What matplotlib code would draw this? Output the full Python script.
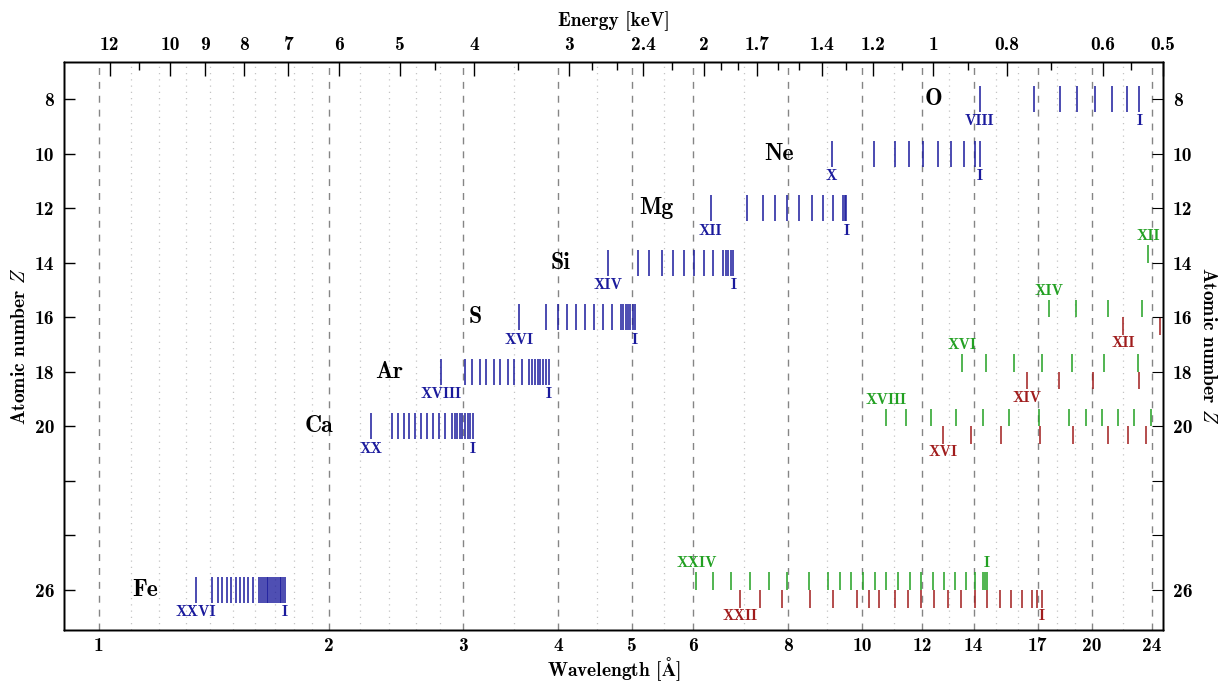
import matplotlib
matplotlib.use('Agg')
import matplotlib.pyplot as plt
from matplotlib.ticker import FixedLocator, FixedFormatter, NullFormatter

plt.rcParams['mathtext.fontset'] = 'cm'
plt.rcParams['font.family'] = ['cmb10', 'DejaVu Serif']
plt.rcParams['axes.linewidth'] = 1.0

HC = 12.398  # keV * Angstrom

# ---------------- data: K-shell edges (blue), wavelength in Angstrom, highest ion -> neutral
Z_K = [8, 10, 12, 14, 16, 18, 20, 26]
names_K = ['O', 'Ne', 'Mg', 'Si', 'S', 'Ar', 'Ca', 'Fe']
first_K = ['VIII', 'X', 'XII', 'XIV', 'XVI', 'XVIII', 'XX', 'XXVI']
last_K = ['I'] * 8

edges_O = [14.256, 16.804, 18.173, 19.113, 20.200, 21.245, 22.229, 23.090]
edges_Ne = [9.126, 10.378, 11.047, 11.524, 12.030, 12.565, 13.080, 13.603, 14.063, 14.276]
edges_Mg = [6.334, 7.061, 7.411, 7.691, 7.982, 8.276, 8.591, 8.898, 9.170, 9.443, 9.491, 9.537]
edges_Si = [4.650, 5.091, 5.258, 5.463, 5.658, 5.844, 6.028, 6.213, 6.384, 6.580, 6.630, 6.680,
            6.731, 6.781]
edges_S = [3.554, 3.853, 3.996, 4.109, 4.219, 4.335, 4.457, 4.581, 4.698, 4.832, 4.866, 4.901,
           4.935, 4.970, 5.006, 5.041]
edges_Ar = [2.807, 3.018, 3.087, 3.153, 3.220, 3.289, 3.359, 3.431, 3.504, 3.579, 3.661, 3.694,
            3.728, 3.756, 3.790, 3.819, 3.853, 3.888]
edges_Ca = [2.270, 2.419, 2.462, 2.507, 2.551, 2.597, 2.643, 2.691, 2.740, 2.790, 2.841, 2.902,
            2.925, 2.949, 2.972, 2.995, 3.019, 3.044, 3.067, 3.092]
edges_Fe = [1.340, 1.407, 1.431, 1.451, 1.470, 1.489, 1.511, 1.531, 1.549, 1.569, 1.593, 1.622,
            1.631, 1.641, 1.650, 1.659, 1.668, 1.677, 1.686, 1.696, 1.705, 1.715, 1.725, 1.734,
            1.743, 1.753]

# ---------------- L1 edges (green)
Z_L1 = [14, 16, 18, 20, 26]
first_L1 = ['XII', 'XIV', 'XVI', 'XVIII', 'XXIV']
l1_Si = [23.730]
l1_S = [17.580, 19.073, 21.028, 23.258]
l1_Ar = [13.534, 14.538, 15.819, 17.230, 18.860, 20.757, 23.020]
l1_Ca = [10.741, 11.420, 12.313, 13.279, 14.393, 15.582, 17.059, 18.674, 19.647, 20.614,
         21.673, 22.752, 23.924]
l1_Fe = [6.068, 6.371, 6.731, 7.121, 7.544, 7.974, 8.524, 9.028, 9.358, 9.662, 10.024, 10.388,
         10.754, 11.147, 11.545, 11.965, 12.396, 12.823, 13.239, 13.665, 14.042, 14.407,
         14.494, 14.582]

# ---------------- L2,3 edges (red)
Z_L23 = [16, 18, 20, 26]
first_L23 = ['XII', 'XIV', 'XVI', 'XXII']
l23_S = [22.001, 24.60]
l23_Ar = [16.441, 18.118, 20.097, 23.069]
l23_Ca = [12.758, 13.894, 15.211, 17.110, 18.883, 20.990, 22.337, 23.565]
l23_Fe = [6.912, 7.357, 7.857, 8.545, 9.148, 9.847, 10.223, 10.530, 11.044, 11.489, 11.954,
          12.441, 12.974, 13.497, 14.046, 14.564, 15.174, 15.696, 16.221, 16.708, 16.936, 17.188]

# ---------------- axes ticks
wl_major = [1, 2, 3, 4, 5, 6, 8, 10, 12, 14, 17, 20, 24]
wl_minor = [1.1, 1.2, 1.3, 1.4, 1.5, 1.6, 1.7, 1.8, 1.9, 2.2, 2.4, 2.6, 2.8, 3.5, 4.5, 5.5,
            7, 9, 11, 13, 15, 16, 18, 19, 22]
en_major = [12, 10, 9, 8, 7, 6, 5, 4, 3, 2.4, 2, 1.7, 1.4, 1.2, 1, 0.8, 0.6, 0.5]
en_minor = [11, 4.5, 3.5, 2.8, 2.6, 2.2, 1.9, 1.8, 1.6, 1.5, 1.3, 1.1, 0.9, 0.7, 0.55]
z_ticks = [8, 10, 12, 14, 16, 18, 20, 22, 24, 26]
z_labels = ['8', '10', '12', '14', '16', '18', '20', '', '', '26']

BLUE = '#1a1a9c'
GREEN = '#22a022'
RED = '#a01c1c'

edges_K = [edges_O, edges_Ne, edges_Mg, edges_Si, edges_S, edges_Ar, edges_Ca, edges_Fe]
edges_L1 = [l1_Si, l1_S, l1_Ar, l1_Ca, l1_Fe]
edges_L23 = [l23_S, l23_Ar, l23_Ca, l23_Fe]

W, H = 1229, 684
fig = plt.figure(figsize=(W / 100, H / 100), dpi=100)
L, R, T, B = 64, 1163, 62, 630
ax = fig.add_axes([L / W, 1 - B / H, (R - L) / W, (B - T) / H])
ax.set_xscale('log')
ax.set_xlim(0.9, HC / 0.5)
ax.set_ylim(27.47, 6.64)

# grid
for v in wl_major:
    ax.axvline(v, color='#858585', lw=1.0, ls=(0, (5, 5)), zorder=0)
for v in wl_minor:
    ax.axvline(v, color='#c4c4c4', lw=0.9, ls=(0, (1, 4)), zorder=0)

fs_num = 11
LW = 1.1
# K edges
for z, name, ed, f, l in zip(Z_K, names_K, edges_K, first_K, last_K):
    ax.vlines(ed, z - 0.48, z + 0.48, color=BLUE, lw=LW, zorder=3)
    ax.text(ed[0], z + 0.82, f, color=BLUE, fontsize=fs_num, ha='center', va='center')
    ax.text(ed[-1], z + 0.82, l, color=BLUE, fontsize=fs_num, ha='center', va='center')
    ax.annotate(name, xy=(ed[0], z), xytext=(-27, 0), textcoords='offset points',
                ha='right', va='center', fontsize=17, color='black')

# L1 edges
for z, ed, f in zip(Z_L1, edges_L1, first_L1):
    ax.vlines(ed, z - 0.65, z, color=GREEN, lw=LW, zorder=3)
    ax.text(ed[0], z - 0.98, f, color=GREEN, fontsize=fs_num, ha='center', va='center')
ax.text(l1_Fe[-1], 26 - 0.98, 'I', color=GREEN, fontsize=fs_num, ha='center', va='center')

# L2,3 edges
for z, ed, f in zip(Z_L23, edges_L23, first_L23):
    ax.vlines(ed, z, z + 0.65, color=RED, lw=LW, zorder=3)
    ax.text(ed[0], z + 0.95, f, color=RED, fontsize=fs_num, ha='center', va='center')
ax.text(l23_Fe[-1], 26 + 0.95, 'I', color=RED, fontsize=fs_num, ha='center', va='center')

# bottom axis
ax.xaxis.set_major_locator(FixedLocator(wl_major))
ax.xaxis.set_major_formatter(FixedFormatter([str(v) for v in wl_major]))
ax.xaxis.set_minor_locator(FixedLocator(wl_minor))
ax.xaxis.set_minor_formatter(NullFormatter())
ax.tick_params(axis='x', which='major', direction='in', length=0, labelsize=14, pad=5)
ax.tick_params(axis='x', which='minor', length=0)
ax.set_xlabel(r'Wavelength [$\mathbf{\AA}$]', fontsize=14, labelpad=0)

# y axis
ax.yaxis.set_major_locator(FixedLocator(z_ticks))
ax.yaxis.set_major_formatter(FixedFormatter(z_labels))
ax.tick_params(axis='y', which='both', direction='in', length=8, width=1.0, labelsize=14,
               left=True, right=True, labelleft=True, labelright=True, pad=7)
ax.set_ylabel(r'Atomic number $Z$', fontsize=14, labelpad=4)
ax2 = ax.twinx()
ax2.set_ylim(ax.get_ylim())
ax2.yaxis.set_major_locator(FixedLocator(z_ticks))
ax2.yaxis.set_major_formatter(FixedFormatter(z_labels))
ax2.tick_params(axis='y', direction='in', length=8, labelsize=14, pad=7)
ax2.set_ylabel(r'Atomic number $Z$', fontsize=14, rotation=-90, labelpad=18)

# top axis (energy)
top = ax.twiny()
top.set_xscale('log')
top.set_xlim(ax.get_xlim())
top.xaxis.set_major_locator(FixedLocator([HC / e for e in en_major]))
top.xaxis.set_major_formatter(FixedFormatter([('%g' % e) for e in en_major]))
top.xaxis.set_minor_locator(FixedLocator([HC / e for e in en_minor]))
top.xaxis.set_minor_formatter(NullFormatter())
top.tick_params(axis='x', which='major', direction='in', length=10, width=1.0, labelsize=14, pad=6)
top.tick_params(axis='x', which='minor', direction='in', length=6, width=1.0)
top.set_xlabel('Energy [keV]', fontsize=14, labelpad=7)

fig.savefig('out.png', dpi=100)
